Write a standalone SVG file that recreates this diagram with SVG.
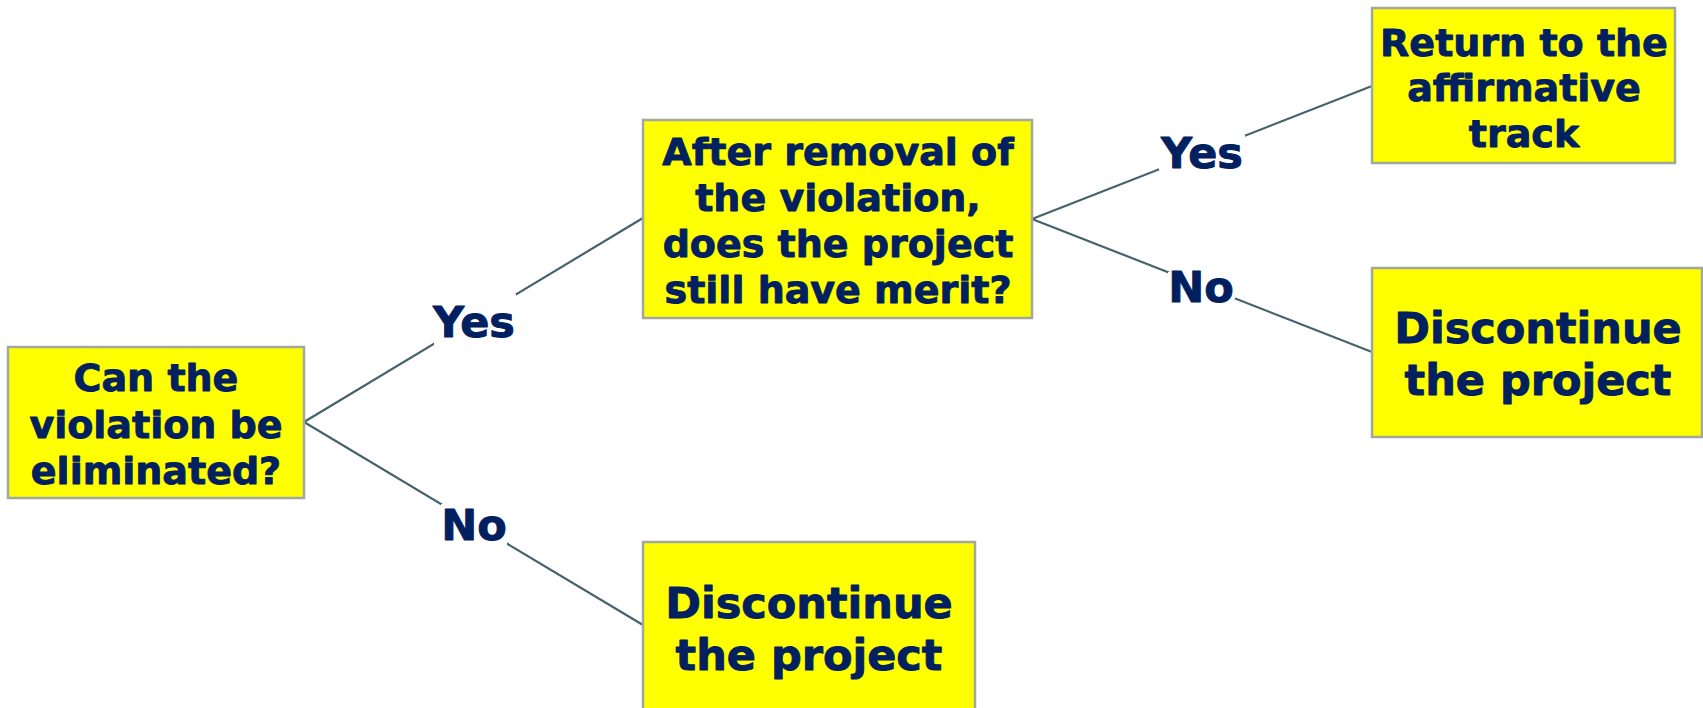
<svg xmlns="http://www.w3.org/2000/svg" width="1703" height="708" viewBox="0 0 1703 708">
<style>
.box{fill:#FFFF00;stroke:#A0A8A0;stroke-width:2.5}
.t{font-family:"DejaVu Sans","Liberation Sans",sans-serif;font-weight:bold;fill:#002060;stroke:#002060;stroke-width:0.9;stroke-linejoin:round;text-anchor:middle}
.s38{font-size:38px}
.s43{font-size:43px}
.conn{stroke:#46636D;stroke-width:2.2;fill:none}
.bg{fill:#FFFFFF}
</style>
<rect width="1703" height="708" fill="#FFFFFF"/>
<g id="connectors">
<line class="conn" x1="304" y1="422" x2="643" y2="218"/>
<line class="conn" x1="304" y1="422" x2="643" y2="625"/>
<line class="conn" x1="1032" y1="219" x2="1372" y2="86"/>
<line class="conn" x1="1032" y1="219" x2="1372" y2="352"/>
</g>
<g id="label-yes-1">
<rect class="bg" x="434" y="294" width="82" height="51"/>
<text class="t s43" x="474" y="337">Yes</text>
</g>
<g id="label-no-1">
<rect class="bg" x="441" y="504" width="66" height="41"/>
<text class="t s43" x="474" y="540">No</text>
</g>
<g id="label-yes-2">
<rect class="bg" x="1159" y="135" width="86" height="35"/>
<text class="t s43" x="1202" y="168">Yes</text>
</g>
<g id="label-no-2">
<rect class="bg" x="1168" y="272" width="67" height="27"/>
<text class="t s43" x="1201" y="302">No</text>
</g>
<g id="node-q1">
<rect class="box" x="8" y="347" width="296" height="151"/>
<text class="t s38" x="156" y="391">Can the</text>
<text class="t s38" x="156" y="438">violation be</text>
<text class="t s38" x="156" y="484">eliminated?</text>
</g>
<g id="node-q2">
<rect class="box" x="643" y="120" width="389" height="198"/>
<text class="t s38" x="838" y="165">After removal of</text>
<text class="t s38" x="838" y="211">the violation,</text>
<text class="t s38" x="838" y="257">does the project</text>
<text class="t s38" x="838" y="303">still have merit?</text>
</g>
<g id="node-return">
<rect class="box" x="1372" y="8" width="303" height="155"/>
<text class="t s38" x="1524" y="56">Return to the</text>
<text class="t s38" x="1524" y="101">affirmative</text>
<text class="t s38" x="1524" y="147">track</text>
</g>
<g id="node-discontinue-2">
<rect class="box" x="1372" y="268" width="330" height="169"/>
<text class="t s43" x="1538" y="343">Discontinue</text>
<text class="t s43" x="1538" y="395">the project</text>
</g>
<g id="node-discontinue-1">
<rect class="box" x="643" y="542" width="332" height="170"/>
<text class="t s43" x="809" y="618">Discontinue</text>
<text class="t s43" x="809" y="670">the project</text>
</g>
</svg>
